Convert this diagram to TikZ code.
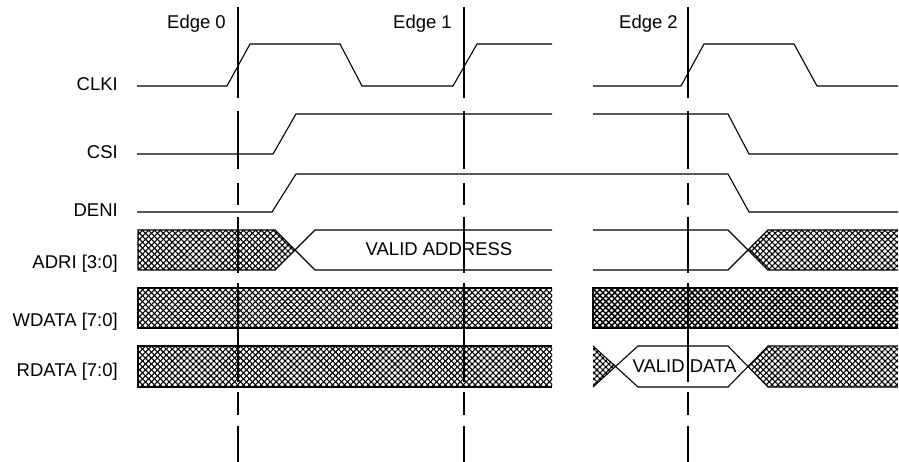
\documentclass[tikz,border=0pt]{standalone}
\usepackage{fontspec}
\setmainfont{Liberation Sans}
\usetikzlibrary{patterns.meta}
\tikzset{
  sig/.style={line width=1.1pt, line join=miter},
  edgeline/.style={line width=1.1pt},
  lbl/.style={anchor=base east, inner sep=0pt, font=\fontsize{18.5}{22}\selectfont},
  txt/.style={anchor=base, inner sep=0pt, font=\fontsize{18.5}{22}\selectfont},
}
\newcommand\xhatch[2][1.1pt]{%
  \fill[pattern={Lines[angle=45,distance=4.2pt,line width=#1]}] #2;
  \fill[pattern={Lines[angle=-45,distance=4.2pt,line width=#1]}] #2;}
\begin{document}
\begin{tikzpicture}[x=1pt,y=-1pt]
\useasboundingbox (0,0) rectangle (899,462);
\fill[white] (0,0) rectangle (899,462);

% labels
\node[lbl] (lclk) at (118,90.7) {CLKI};
\node[lbl] (lcsi) at (118,158.3) {CSI};
\node[lbl] (lden) at (118,216.7) {DENI};
\node[lbl] (ladr) at (118,268.5) {ADRI [3:0]};
\node[lbl] (lwd) at (118,326.7) {WDATA [7:0]};
\node[lbl] (lrd) at (118,376.7) {RDATA [7:0]};
\node[lbl] (e0) at (226,28.3) {Edge 0};
\node[lbl] (e1) at (452,28.3) {Edge 1};
\node[lbl] (e2) at (678,28.3) {Edge 2};

% CLKI
\draw[sig] (137,86) -- (227,86) -- (250,44) -- (340,44) -- (362,86) -- (453,86) -- (477,44) -- (552,44);
\draw[sig] (593,86) -- (681,86) -- (704,44) -- (794,44) -- (817,86) -- (898,86);
% CSI
\draw[sig] (137,154) -- (273,154) -- (296,114) -- (552,114);
\draw[sig] (593,114) -- (728,114) -- (749,154) -- (898,154);
% DENI
\draw[sig] (137,212) -- (272,212) -- (296,174) -- (728,174) -- (749,212) -- (898,212);

% ADRI
\xhatch{(138,230) -- (275,230) -- (295,250) -- (275,270) -- (138,270) -- cycle}
\draw[sig] (552,230) -- (315,230) -- (275,270) -- (138,270) -- (138,230) -- (275,230) -- (315,270) -- (552,270);
\node[txt] (va) at (439,255.7) {VALID ADDRESS};
\xhatch{(748,250) -- (768,230) -- (898,230) -- (898,270) -- (768,270) -- cycle}
\draw[sig] (593,230) -- (728,230) -- (768,270) -- (898,270);
\draw[sig] (593,270) -- (728,270) -- (768,230) -- (898,230);

% WDATA
\xhatch{(138,288) rectangle (552,328)}
\draw[sig] (552,288) -- (138,288) -- (138,328) -- (552,328);
\xhatch[1.5pt]{(593,288) rectangle (898,328)}
\draw[sig] (898,288) -- (593,288) -- (593,328) -- (898,328);

% RDATA
\xhatch{(138,346) rectangle (552,387)}
\draw[sig] (552,346) -- (138,346) -- (138,387) -- (552,387);
\xhatch{(593,346) -- (616,366) -- (593,387) -- cycle}
\draw[sig] (593,346) -- (638,387) -- (728,387) -- (768,346) -- (898,346);
\draw[sig] (593,387) -- (638,346) -- (728,346) -- (768,387) -- (898,387);
\xhatch{(748,366) -- (768,346) -- (898,346) -- (898,387) -- (768,387) -- cycle}
\node[txt] (vd) at (684.5,372.5) {VALID DATA};

% edge lines
\foreach \x in {238,464,688}{
  \foreach \a/\b in {7/98,111/169,183/205,217/273,283/382,392/415,426/462}
    \draw[edgeline] (\x,\a) -- (\x,\b);
}
\end{tikzpicture}
\end{document}
